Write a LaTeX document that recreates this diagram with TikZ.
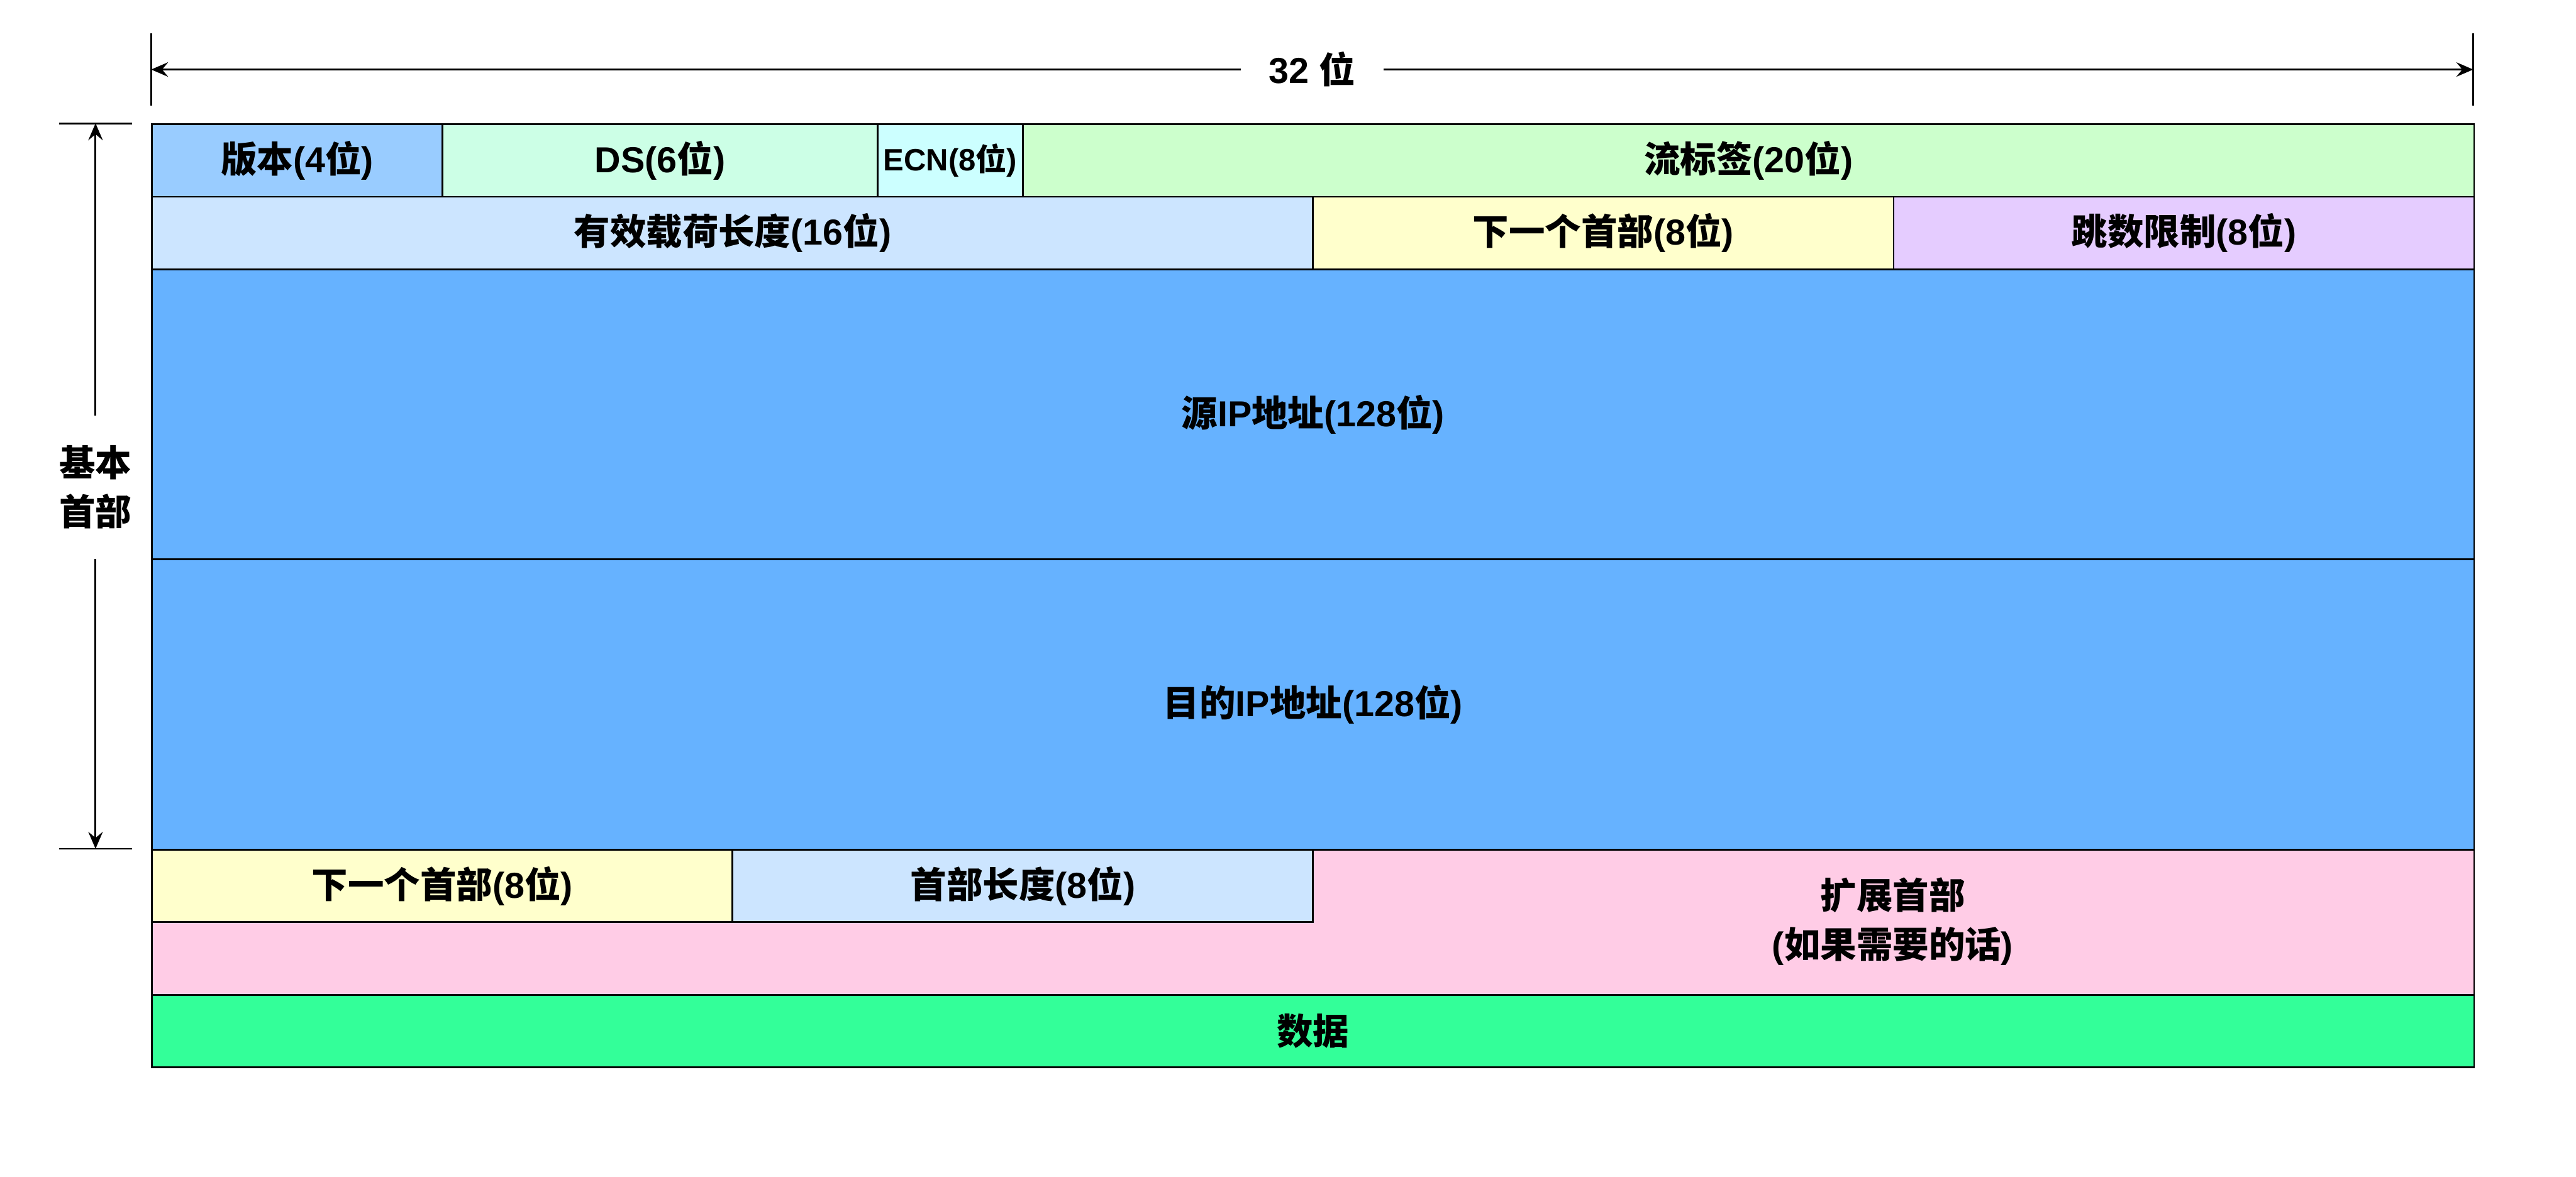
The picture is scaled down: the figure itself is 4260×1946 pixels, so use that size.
\documentclass[tikz,border=0pt]{standalone}
\usepackage{fontspec}
\setmainfont{Liberation Sans}
\newfontfamily\cjkfont{Noto Sans CJK SC}
\newcommand\zh[1]{{\cjkfont #1}}
\usetikzlibrary{arrows.meta}
\definecolor{cVer}{HTML}{99CCFF}
\definecolor{cDS}{HTML}{CCFFE6}
\definecolor{cECN}{HTML}{CCFFFF}
\definecolor{cFlow}{HTML}{CCFFCC}
\definecolor{cLen}{HTML}{CCE5FF}
\definecolor{cNext}{HTML}{FFFFCC}
\definecolor{cHop}{HTML}{E5CCFF}
\definecolor{cAddr}{HTML}{66B2FF}
\definecolor{cExt}{HTML}{FFCCE6}
\definecolor{cData}{HTML}{33FF99}
\tikzset{
  cell/.style={draw=black, line width=0.85pt, anchor=north west, inner sep=0pt,
    font=\bfseries\fontsize{17}{20}\selectfont, align=center},
  dimline/.style={line width=0.85pt, {Stealth[length=0.28cm,width=0.24cm,inset=0.1cm]}-{Stealth[length=0.28cm,width=0.24cm,inset=0.1cm]}},
  tick/.style={line width=0.85pt},
  dimlabel/.style={fill=white, font=\bfseries\fontsize{17}{20}\selectfont, align=center},
}
\newcommand\cell[7]{\node[cell, fill=#6, minimum width={#4*0.01cm}, minimum height={#5*0.01cm}] (#1) at (#2,#3) {#7};}
\begin{document}
\begin{tikzpicture}[x=0.01cm, y=-0.01cm]
\useasboundingbox (0,0) rectangle (4260,1946);
% row 1
\cell{ver}{250}{204}{480}{120}{cVer}{\zh{版本}(4\zh{位})}
\cell{ds}{730}{204}{720}{120}{cDS}{DS(6\zh{位})}
\node[cell, fill=cECN, minimum width={240*0.01cm}, minimum height={120*0.01cm}, font=\bfseries\fontsize{14.5}{17}\selectfont] (ecn) at (1450,204) {ECN(8\zh{位})};
\cell{flow}{1690}{204}{2400}{120}{cFlow}{\zh{流标签}(20\zh{位})}
% row 2
\cell{plen}{250}{324}{1920}{120}{cLen}{\zh{有效载荷长度}(16\zh{位})}
\cell{next}{2170}{324}{960}{120}{cNext}{\zh{下一个首部}(8\zh{位})}
\cell{hop}{3130}{324}{960}{120}{cHop}{\zh{跳数限制}(8\zh{位})}
% addresses
\cell{src}{250}{444}{3840}{480}{cAddr}{\zh{源}IP\zh{地址}(128\zh{位})}
\cell{dst}{250}{924}{3840}{480}{cAddr}{\zh{目的}IP\zh{地址}(128\zh{位})}
% extension header
\cell{ext}{250}{1404}{3840}{240}{cExt}{}
\cell{enext}{250}{1404}{960}{120}{cNext}{\zh{下一个首部}(8\zh{位})}
\cell{elen}{1210}{1404}{960}{120}{cLen}{\zh{首部长度}(8\zh{位})}
\node[font=\bfseries\fontsize{17}{20}\selectfont, align=center, inner sep=0pt] (extlabel) at (3130,1524) {\zh{扩展首部}\\[3pt](\zh{如果需要的话})};
% data
\cell{data}{250}{1644}{3840}{120}{cData}{\zh{数据}}
% top dimension
\coordinate (tl) at (250,115);
\coordinate (tr) at (4090,115);
\coordinate (tlt) at (250,55);
\coordinate (tlb) at (250,175);
\coordinate (trt) at (4090,55);
\coordinate (trb) at (4090,175);
\draw[tick] (tlt) -- (tlb);
\draw[tick] (trt) -- (trb);
\draw[dimline] (tl) -- (tr) node[dimlabel, midway, inner xsep=0.47cm, inner ysep=2pt] (bits) {32 \zh{位}};
% left dimension
\coordinate (lt) at (158,204);
\coordinate (lb) at (158,1404);
\coordinate (ltl) at (98,204);
\coordinate (ltr) at (218,204);
\coordinate (lbl) at (98,1404);
\coordinate (lbr) at (218,1404);
\draw[tick] (ltl) -- (ltr);
\draw[tick] (lbl) -- (lbr);
\draw[dimline] (lt) -- (lb);
\node[dimlabel, inner xsep=2pt, inner ysep=0.5cm] (basic) at (158,806) {\zh{基本}\\[3pt]\zh{首部}};
\end{tikzpicture}
\end{document}
